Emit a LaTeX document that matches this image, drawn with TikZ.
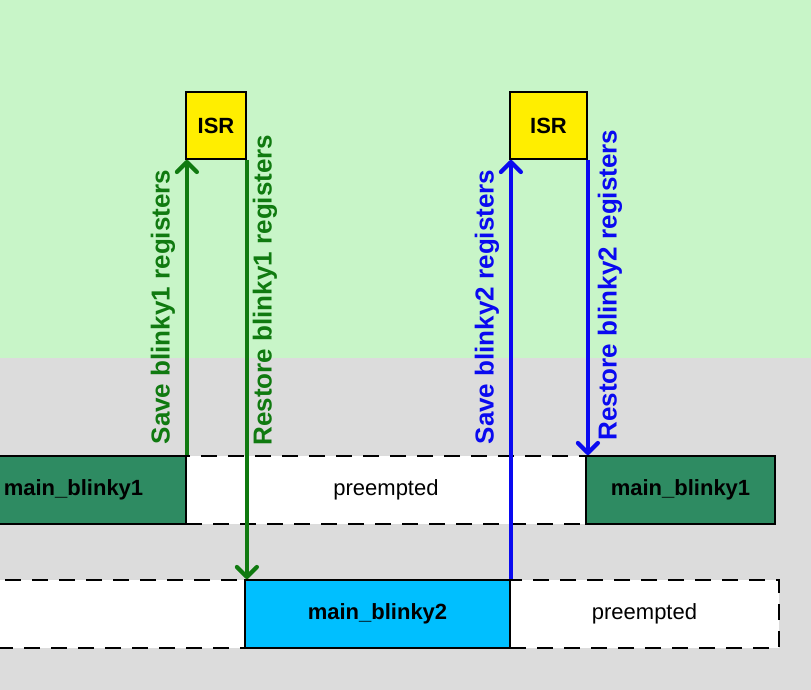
\documentclass[tikz,border=0pt]{standalone}
\usepackage{fontspec}
\setmainfont{Liberation Sans}
\usetikzlibrary{arrows.meta}
\definecolor{bggreen}{HTML}{C8F5C8}
\definecolor{bggray}{HTML}{DCDCDC}
\definecolor{taskone}{HTML}{2E8B62}
\definecolor{tasktwo}{HTML}{00BFFF}
\definecolor{isryellow}{HTML}{FFEE00}
\definecolor{arrgreen}{HTML}{107A10}
\definecolor{arrblue}{HTML}{0A0AF0}
\tikzset{
  runbox/.style={draw=black, line width=1.8pt, minimum height=68pt, inner sep=0pt, font=\fontsize{22}{26}\selectfont\bfseries},
  idlebox/.style={draw=black, fill=white, line width=2.2pt, dash pattern=on 16pt off 11pt, minimum height=68pt, inner sep=0pt, font=\fontsize{22}{26}\selectfont},
  isrbox/.style={draw=black, fill=isryellow, line width=1.8pt, inner sep=0pt, font=\fontsize{22}{26}\selectfont\bfseries},
  ctxarrow/.style={line width=4.8pt, -{Straight Barb[length=10pt,width=20pt,line width=4.2pt,round]}},
  ctxlabel/.style={rotate=90, inner sep=0pt, font=\fontsize{26}{30}\selectfont\bfseries}
}
\begin{document}
\begin{tikzpicture}[x=1pt,y=-1pt]
\useasboundingbox (0,0) rectangle (811,690);
\clip (0,0) rectangle (811,690);
\fill[bggreen] (0,0) rectangle (811,358);
\fill[bggray] (0,358) rectangle (811,690);
% row 1
\node[idlebox, minimum width=400pt] (pre1) at (386,490) {preempted};
\node[runbox, fill=taskone, minimum width=225pt] (m1a) at (73.5,490) {main\_blinky1};
\node[runbox, fill=taskone, minimum width=189pt] (m1b) at (680.5,490) {main\_blinky1};
% row 2
\node[idlebox, minimum width=275pt] (idle2) at (107.5,614) {};
\node[idlebox, minimum width=269pt] (pre2) at (644.5,614) {preempted};
\node[runbox, fill=tasktwo, minimum width=265pt] (m2) at (377.5,614) {main\_blinky2};
% ISR boxes
\node[isrbox, minimum width=60pt, minimum height=67pt] (isr1) at (216,125.5) {ISR};
\node[isrbox, minimum width=77pt, minimum height=67pt] (isr2) at (548.5,125.5) {ISR};
% arrows
\draw[ctxarrow, arrgreen] (m1a.north east) -- (m1a.north east |- isr1.south);
\draw[ctxarrow, arrgreen] (isr1.south east) -- (isr1.south east |- m2.north);
\draw[ctxarrow, arrblue] (m2.north east) -- (m2.north east |- isr2.south);
\draw[ctxarrow, arrblue] (isr2.south east) -- (isr2.south east |- m1b.north);
% labels
\node[ctxlabel, text=arrgreen] (l1) at (163,307) {Save blinky1 registers};
\node[ctxlabel, text=arrgreen] (l2) at (265,290) {Restore blinky1 registers};
\node[ctxlabel, text=arrblue] (l3) at (487,307) {Save blinky2 registers};
\node[ctxlabel, text=arrblue] (l4) at (610,285) {Restore blinky2 registers};
\end{tikzpicture}
\end{document}
